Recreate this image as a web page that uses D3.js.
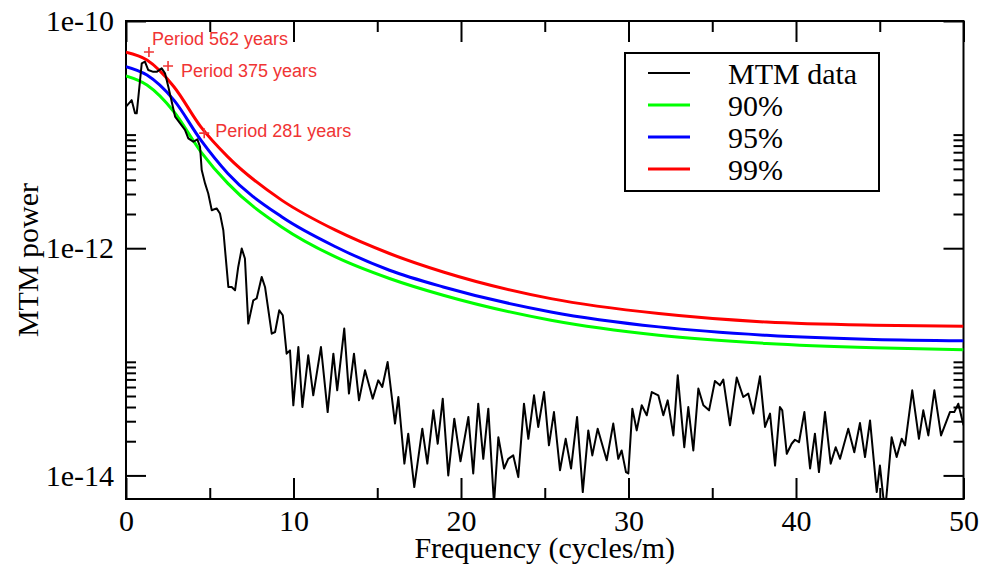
<!DOCTYPE html>
<html>
<head>
<meta charset="utf-8">
<script src="https://cdn.jsdelivr.net/npm/d3@7"></script>
<style>
  html, body { margin: 0; padding: 0; background: #fff; }
  svg { display: block; }
</style>
</head>
<body>
<div id="chart"></div>
<script>
// MTM spectrum
const mtmFreq = [
  0, 0.34, 0.54, 0.64, 0.94, 1.13, 1.33, 1.63, 1.83, 2.13, 2.33, 2.53, 2.73, 2.93, 3.22, 3.52, 3.72, 4.02, 4.26, 4.42,
  4.52, 4.72, 4.91, 5.12, 5.41, 5.61, 5.81, 6.11, 6.31, 6.51, 6.70, 6.91, 7.10, 7.30, 7.60, 7.80, 8.10, 8.30, 8.70, 8.90,
  9.15, 9.36, 9.59, 9.79, 9.99, 10.29, 10.53, 10.88, 11.18, 11.64, 12.04, 12.38, 12.61, 13.03, 13.31, 13.61, 13.91, 14.27, 14.73, 15.06,
  15.30, 15.62, 16.06, 16.26, 16.62, 16.85, 17.21, 17.69, 17.99, 18.35, 18.61, 18.91, 19.24, 19.60, 19.97, 20.44, 20.73, 21.03, 21.33, 21.63,
  21.97, 22.23, 22.57, 22.82, 23.12, 23.42, 23.76, 24.02, 24.36, 24.61, 24.96, 25.25, 25.55, 25.91, 26.25, 26.57, 26.93, 27.27, 27.60, 27.84,
  28.16, 28.70, 29.09, 29.39, 29.59, 29.85, 29.99, 30.23, 30.49, 30.79, 31.09, 31.39, 31.78, 32.08, 32.34, 32.68, 32.94, 33.33, 33.57, 33.87,
  34.17, 34.47, 34.81, 35.16, 35.46, 35.66, 36.06, 36.46, 36.85, 37.15, 37.45, 37.85, 38.15, 38.45, 38.75, 39.04, 39.18, 39.45, 39.74, 39.94,
  40.18, 40.50, 40.84, 41.13, 41.37, 41.73, 42.07, 42.37, 42.63, 43.12, 43.48, 43.82, 44.12, 44.42, 44.82, 45.01, 45.21, 45.36, 45.71, 46.01,
  46.31, 46.51, 46.94, 47.34, 47.60, 47.90, 48.26, 48.66, 49.19, 49.45, 49.69, 50
];
const mtmPower = [
  1.76e-11, 2.01e-11, 1.54e-11, 1.54e-11, 4.24e-11, 4.38e-11, 3.70e-11, 3.57e-11, 3.57e-11, 3.83e-11, 3.46e-11, 2.63e-11, 1.95e-11, 1.44e-11, 1.26e-11, 1.10e-11, 9.27e-12, 8.65e-12, 9.08e-12, 7.82e-12,
  4.87e-12, 3.72e-12, 3.03e-12, 2.16e-12, 2.24e-12, 2.02e-12, 1.44e-12, 4.56e-13, 4.56e-13, 4.26e-13, 6.84e-13, 9.93e-13, 8.11e-13, 2.17e-13, 3.48e-13, 3.61e-13, 5.59e-13, 4.56e-13, 1.77e-13, 1.83e-13,
  2.84e-13, 2.57e-13, 1.18e-13, 1.26e-13, 4.14e-14, 1.35e-13, 4.00e-14, 1.14e-13, 5.07e-14, 1.35e-13, 3.61e-14, 1.18e-13, 5.61e-14, 1.96e-13, 5.25e-14, 1.18e-13, 4.58e-14, 8.41e-14, 4.74e-14, 6.87e-14,
  6.00e-14, 9.96e-14, 2.86e-14, 4.90e-14, 1.27e-14, 2.33e-14, 7.89e-15, 2.58e-14, 1.27e-14, 3.74e-14, 1.90e-14, 4.74e-14, 1.00e-14, 3.16e-14, 1.33e-14, 3.27e-14, 1.04e-14, 4.28e-14, 1.40e-14, 3.87e-14,
  5.6e-15, 2.17e-14, 1.15e-14, 1.40e-14, 1.50e-14, 9.66e-15, 4.28e-14, 2.10e-14, 5.07e-14, 2.67e-14, 5.42e-14, 1.84e-14, 3.61e-14, 1.11e-14, 2.10e-14, 1.15e-14, 3.27e-14, 7.13e-15, 2.49e-14, 1.50e-14,
  2.58e-14, 1.36e-14, 2.86e-14, 1.40e-14, 1.66e-14, 1.07e-14, 1.04e-14, 3.87e-14, 2.49e-14, 4.14e-14, 3.38e-14, 5.42e-14, 5.07e-14, 3.38e-14, 4.58e-14, 2.25e-14, 7.60e-14, 1.77e-14, 4.00e-14, 1.66e-14,
  5.81e-14, 4.14e-14, 3.74e-14, 6.78e-14, 6.21e-14, 6.97e-14, 2.76e-14, 7.26e-14, 4.90e-14, 5.25e-14, 3.50e-14, 7.45e-14, 2.67e-14, 3.50e-14, 1.22e-14, 4.00e-14, 3.74e-14, 1.55e-14, 1.90e-14, 2.06e-14,
  1.96e-14, 3.61e-14, 1.15e-14, 2.33e-14, 1.07e-14, 3.61e-14, 1.27e-14, 1.77e-14, 1.40e-14, 2.58e-14, 1.60e-14, 2.89e-14, 1.45e-14, 3.05e-14, 7.13e-15, 1.22e-14, 6.44e-15, 5.6e-15, 2.17e-14, 1.45e-14,
  2.10e-14, 1.84e-14, 5.61e-14, 2.10e-14, 3.74e-14, 2.25e-14, 5.61e-14, 2.25e-14, 3.61e-14, 3.61e-14, 4.28e-14, 2.76e-14
];

// Confidence levels (red-noise background)
const levelFreq = [0, 1.25, 2.86, 4.47, 6.08, 9.29, 12.51, 15.73, 18.94, 25.37, 31.81, 38.24, 44.67, 50];
const level90 = [3.28e-11, 2.73e-11, 1.59e-11, 7.06e-12, 3.72e-12, 1.54e-12, 8.38e-13, 5.41e-13, 3.85e-13, 2.32e-13, 1.71e-13, 1.45e-13, 1.33e-13, 1.28e-13];
const level95 = [3.96e-11, 3.34e-11, 2.01e-11, 8.94e-12, 4.55e-12, 1.89e-12, 1.03e-12, 6.40e-13, 4.56e-13, 2.75e-13, 2.03e-13, 1.71e-13, 1.57e-13, 1.53e-13];
const level99 = [5.30e-11, 4.53e-11, 2.64e-11, 1.17e-11, 6.37e-12, 2.65e-12, 1.44e-12, 8.98e-13, 6.18e-13, 3.60e-13, 2.66e-13, 2.24e-13, 2.10e-13, 2.06e-13];

// Period annotations
const peakFreq = [1.37, 2.51, 4.67];
const peakPower = [5.33e-11, 4.02e-11, 1.03e-11];
const peakLabels = ['Period 562 years', 'Period 375 years', 'Period 281 years'];

// Axis ticks
const xMajor = [0, 10, 20, 30, 40, 50];
const xMinor = [5, 15, 25, 35, 45];
const yMajor = [1e-10, 1e-12, 1e-14];
const yMinor = [2, 3, 4, 5, 6, 7, 8, 9, 10].flatMap(k => [k * 1e-14, k * 1e-12]);

const legendItems = [
  { label: 'MTM data', color: '#000000' },
  { label: '90%', color: '#00ff00' },
  { label: '95%', color: '#0000ff' },
  { label: '99%', color: '#ff0000' }
];

// 1. Setup SVG
const width = 984;
const height = 571;
const margin = { top: 21, right: 20.5, bottom: 72, left: 126 };
const innerWidth = width - margin.left - margin.right;
const innerHeight = height - margin.top - margin.bottom;
const serif = '"Liberation Serif", "Times New Roman", serif';
const sans = '"Liberation Sans", Arial, sans-serif';

const svg = d3.select('#chart').append('svg')
  .attr('width', width)
  .attr('height', height);

const g = svg.append('g').attr('transform', `translate(${margin.left},${margin.top})`);

// 2. Scales
const x = d3.scaleLinear().domain([0, 50]).range([0, innerWidth]);
const y = d3.scaleLog().domain([6.2e-15, 1e-10]).range([innerHeight, 0]);

svg.append('defs').append('clipPath').attr('id', 'plot-clip')
  .append('rect').attr('width', innerWidth).attr('height', innerHeight);

// 3. Axes (ticks pointing inward on all four sides)
const styleAxis = sel => sel
  .call(a => a.select('.domain').remove())
  .call(a => a.selectAll('line').attr('stroke', '#000').attr('stroke-width', 2))
  .call(a => a.selectAll('text').filter(function () { return !this.textContent; }).remove())
  .call(a => a.selectAll('text').attr('fill', '#000').attr('font-family', serif).attr('font-size', 30));

g.append('g').attr('transform', `translate(0,${innerHeight})`)
  .call(d3.axisBottom(x).tickValues(xMajor).tickSize(-21).tickPadding(11).tickFormat(d3.format('d')))
  .call(styleAxis);
g.append('g').attr('transform', `translate(0,${innerHeight})`)
  .call(d3.axisBottom(x).tickValues(xMinor).tickSize(-11).tickFormat(''))
  .call(styleAxis);
g.append('g')
  .call(d3.axisTop(x).tickValues(xMajor).tickSize(-21).tickFormat(''))
  .call(styleAxis);
g.append('g')
  .call(d3.axisTop(x).tickValues(xMinor).tickSize(-11).tickFormat(''))
  .call(styleAxis);

g.append('g')
  .call(d3.axisLeft(y).tickValues(yMajor).tickSize(-20).tickPadding(12)
    .tickFormat(d => `1e${Math.round(Math.log10(d))}`))
  .call(styleAxis);
g.append('g')
  .call(d3.axisLeft(y).tickValues(yMinor).tickSize(-10).tickFormat(''))
  .call(styleAxis);
g.append('g').attr('transform', `translate(${innerWidth},0)`)
  .call(d3.axisRight(y).tickValues(yMajor).tickSize(-20).tickFormat(''))
  .call(styleAxis);
g.append('g').attr('transform', `translate(${innerWidth},0)`)
  .call(d3.axisRight(y).tickValues(yMinor).tickSize(-10).tickFormat(''))
  .call(styleAxis);

// Frame
g.append('rect')
  .attr('width', innerWidth)
  .attr('height', innerHeight)
  .attr('fill', 'none')
  .attr('stroke', '#000')
  .attr('stroke-width', 2);

// Axis titles
svg.append('text')
  .attr('x', margin.left + innerWidth / 2)
  .attr('y', 558)
  .attr('text-anchor', 'middle')
  .attr('font-family', serif)
  .attr('font-size', 30)
  .text('Frequency (cycles/m)');

svg.append('text')
  .attr('transform', `translate(38,${margin.top + innerHeight / 2}) rotate(-90)`)
  .attr('text-anchor', 'middle')
  .attr('font-family', serif)
  .attr('font-size', 30)
  .text('MTM power');

// 4. Lines
const plot = g.append('g').attr('clip-path', 'url(#plot-clip)');

const levelLine = d3.line()
  .x((d, i) => x(levelFreq[i]))
  .y(d => y(d))
  .curve(d3.curveMonotoneX);

[[level90, '#00ff00'], [level95, '#0000ff'], [level99, '#ff0000']].forEach(([vals, color]) => {
  plot.append('path')
    .datum(vals)
    .attr('fill', 'none')
    .attr('stroke', color)
    .attr('stroke-width', 3)
    .attr('d', levelLine);
});

const mtmLine = d3.line()
  .x((d, i) => x(mtmFreq[i]))
  .y(d => y(d));

plot.append('path')
  .datum(mtmPower)
  .attr('fill', 'none')
  .attr('stroke', '#000')
  .attr('stroke-width', 2)
  .attr('stroke-linejoin', 'round')
  .attr('d', mtmLine);

// 5. Peak annotations
const labelOffsets = [[3, -7], [13, 11], [11, 3.5]];
const peaks = g.append('g').attr('class', 'peaks');

peakFreq.forEach((f, i) => {
  const px = x(f);
  const py = y(peakPower[i]);
  peaks.append('path')
    .attr('d', `M${px - 5},${py}H${px + 5}M${px},${py - 5}V${py + 5}`)
    .attr('stroke', '#f03434')
    .attr('stroke-width', 1.6);
  peaks.append('text')
    .attr('x', px + labelOffsets[i][0])
    .attr('y', py + labelOffsets[i][1])
    .attr('fill', '#f03434')
    .attr('font-family', sans)
    .attr('font-size', 18)
    .text(peakLabels[i]);
});

// 6. Legend
const legend = svg.append('g').attr('transform', 'translate(625,53)');
legend.append('rect')
  .attr('width', 254)
  .attr('height', 138)
  .attr('fill', '#fff')
  .attr('stroke', '#000')
  .attr('stroke-width', 2);

legendItems.forEach((item, i) => {
  const ly = 20 + i * 32;
  legend.append('line')
    .attr('x1', 23).attr('x2', 65)
    .attr('y1', ly).attr('y2', ly)
    .attr('stroke', item.color)
    .attr('stroke-width', item.color === '#000000' ? 2 : 3);
  legend.append('text')
    .attr('x', 103)
    .attr('y', ly)
    .attr('dy', '0.35em')
    .attr('font-family', serif)
    .attr('font-size', 30)
    .text(item.label);
});
</script>
</body>
</html>
